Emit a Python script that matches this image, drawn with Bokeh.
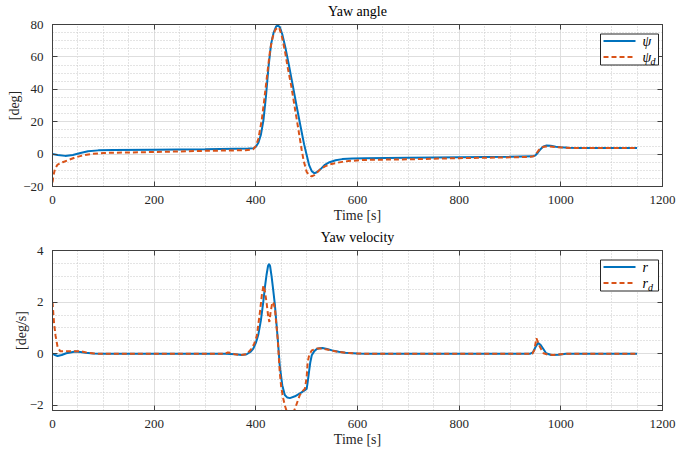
from bokeh.plotting import figure
from bokeh.models import (SingleIntervalTicker, LinearAxis, Range1d, BoxAnnotation,
                          Label, Arrow)
from bokeh.layouts import column
from bokeh.embed import file_html
from bokeh.resources import INLINE

# ---------------- data ----------------
t_psi = [0, 10, 25, 40, 55, 70, 90, 120, 200, 300, 360, 385, 395, 400, 405, 410, 415, 420,
         425, 430, 435, 440, 443, 447, 452, 458, 465, 472, 480, 488, 495, 500, 505, 510,
         515, 520, 527, 535, 545, 557, 570, 590, 615, 700, 800, 900, 945, 950, 955, 960,
         965, 972, 980, 990, 1000, 1015, 1035, 1150]
psi = [0, -0.5, -1.1, -0.6, 0.7, 1.8, 2.3, 2.5, 2.7, 3.0, 3.3, 3.4, 3.6, 4.5, 7.0, 12.0,
       21.0, 36.0, 54.0, 68.0, 75.0, 78.8, 79.3, 78.5, 74.0, 66.0, 55.0, 43.5, 30.0, 17.0,
       6.0, -0.5, -7.0, -10.5, -11.8, -11.2, -9.4, -6.8, -5.0, -3.8, -3.1, -2.7, -2.5,
       -2.2, -1.9, -1.6, -1.4, -0.8, 1.0, 3.0, 4.5, 5.3, 5.1, 4.6, 4.2, 3.9, 3.8, 3.7]

t_psid = [0, 2, 5, 10, 20, 30, 45, 60, 80, 100, 150, 200, 300, 380, 395, 400, 405, 411.6,
          416, 421, 428, 433, 438, 443, 446, 451, 457, 463, 470, 477, 484, 490, 494, 500,
          505, 510, 515, 520, 528, 536, 546, 556, 570, 582, 612, 700, 800, 900, 940, 946,
          951, 956, 961, 966, 975, 990, 1005, 1020, 1150]
psi_d = [-17.5, -13.0, -9.0, -6.5, -5.0, -3.8, -2.0, -0.8, 0.2, 0.7, 1.0, 1.3, 2.0, 2.4,
         3.0, 5.0, 9.5, 21.0, 32.0, 45.6, 64.0, 72.0, 76.6, 78.2, 78.0, 73.0, 64.0, 53.0,
         41.5, 28.0, 14.7, 3.0, -4.0, -11.0, -13.0, -13.8, -13.0, -11.5, -9.0, -7.6, -6.3,
         -5.6, -4.8, -4.3, -3.6, -3.2, -2.5, -2.0, -1.7, -1.4, 0.0, 2.2, 3.8, 4.5, 4.7,
         4.4, 4.0, 3.8, 3.7]

t_r = [0, 5, 10, 18, 27, 35, 45, 55, 65, 80, 100, 340, 360, 372, 382, 390, 395, 400, 405,
       410, 414.6, 418, 421, 424, 426, 428, 431, 434, 437.6, 440, 443, 447, 452, 457, 462,
       467, 477, 490, 500, 502, 504.6, 507, 510, 515, 520, 525, 531, 540, 550, 563, 576,
       600, 615, 940, 945, 950, 955, 960, 965, 971, 981, 995, 1010, 1150]
r = [0, -0.05, -0.09, -0.05, 0.02, 0.05, 0.09, 0.07, 0.04, 0.01, 0, 0, -0.02, -0.05,
     -0.02, 0.08, 0.2, 0.42, 0.75, 1.3, 2.0, 2.6, 3.05, 3.4, 3.48, 3.4, 3.0, 2.5, 1.87,
     1.3, 0.6, -0.45, -1.22, -1.6, -1.7, -1.72, -1.65, -1.5, -1.36, -1.1, -0.7, -0.35,
     -0.06, 0.1, 0.18, 0.21, 0.22, 0.18, 0.13, 0.08, 0.04, 0.01, 0, 0, 0.05, 0.25, 0.42,
     0.35, 0.2, 0.02, -0.05, -0.04, 0, 0]

t_rd = [0, 3, 6, 10, 15, 25, 50, 60, 70, 90, 340, 345, 352, 358, 370, 382, 392, 397, 402,
        408, 412, 415, 418, 421, 424, 426.6, 429, 432.5, 435, 437.6, 440, 443, 447, 450,
        454, 457, 460.6, 467, 473, 477, 482, 486.6, 492, 496.6, 500, 502, 505, 510, 520,
        530, 540, 550, 563, 580, 600, 620, 944, 948, 952, 955, 958, 962, 966, 975, 985,
        1000, 1015, 1150]
r_d = [2.0, 1.2, 0.7, 0.26, 0.1, 0.1, 0.1, 0.08, 0.03, 0, 0, 0.05, 0.03, -0.02, -0.05,
       -0.02, 0.2, 0.4, 0.7, 1.6, 2.3, 2.65, 2.4, 2.0, 1.5, 1.23, 1.6, 2.0, 1.95, 1.74,
       1.2, 0.58, -0.7, -1.3, -1.74, -2.0, -2.22, -2.42, -2.3, -2.13, -1.85, -1.6, -1.45,
       -1.35, -0.9, -0.32, -0.05, 0.13, 0.2, 0.2, 0.16, 0.12, 0.07, 0.03, 0.01, 0, 0, 0.15,
       0.6, 0.45, 0.3, 0.15, 0.02, -0.04, -0.05, -0.02, 0, 0]

titles = ["Yaw angle", "Yaw velocity"]
ylabels = ["[deg]", "[deg/s]"]
xlabel = "Time [s]"
legend_main = [("ψ", "ψ"), ("r", "r")]
legend_sub = [("", "d"), ("", "d")]

# ---------------- styling ----------------
FONT = "Liberation Serif"
BLUE = "#0072BD"
ORANGE = "#D95319"
AX = "#404040"
TXT = "#262626"


def make_fig(title, ylabel, yr, yint, fh, top, bottom):
    p = figure(frame_width=610, frame_height=fh,
               x_range=Range1d(0, 1200), y_range=Range1d(*yr),
               output_backend="svg", toolbar_location=None,
               min_border_left=52, min_border_right=14,
               min_border_top=top, min_border_bottom=bottom,
               background_fill_color="white", border_fill_color="white")
    p.title.text = title
    p.title.text_font = FONT
    p.title.text_font_size = "14px"
    p.title.text_font_style = "normal"
    p.title.text_color = "black"
    p.title.align = "center"
    p.title.standoff = 3

    xt = SingleIntervalTicker(interval=200, num_minor_ticks=4)
    yt = SingleIntervalTicker(interval=yint, num_minor_ticks=4)
    p.xaxis.ticker = xt
    p.yaxis.ticker = yt
    p.xaxis.axis_label = xlabel
    p.yaxis.axis_label = ylabel
    for ax in (p.xaxis, p.yaxis):
        ax.axis_label_text_font = FONT
        ax.axis_label_text_font_size = "14px"
        ax.axis_label_text_font_style = "normal"
        ax.axis_label_text_color = TXT
        ax.major_label_text_font = FONT
        ax.major_label_text_font_size = "13px"
        ax.major_label_text_color = TXT
        ax.axis_line_color = AX
        ax.major_tick_line_color = AX
        ax.major_tick_in = 5
        ax.major_tick_out = 0
        ax.minor_tick_line_color = None
        ax.major_label_standoff = 5
    p.xaxis.axis_label_standoff = 1
    p.yaxis.axis_label_standoff = -2

    # box ticks on top and right (labels not drawn)
    for side, tk in (("above", xt), ("right", yt)):
        a = LinearAxis(ticker=tk, major_tick_in=5, major_tick_out=0,
                       minor_tick_line_color=None, axis_line_color=AX,
                       major_tick_line_color=AX, major_label_text_font_size="1px",
                       major_label_text_alpha=0, major_label_text_color=None,
                       major_label_standoff=0)
        p.add_layout(a, side)

    p.xgrid.grid_line_color = "#dedede"
    p.ygrid.grid_line_color = "#dedede"
    p.xgrid.minor_grid_line_color = "#c9c9c9"
    p.ygrid.minor_grid_line_color = "#c9c9c9"
    p.xgrid.minor_grid_line_dash = "1 2"
    p.ygrid.minor_grid_line_dash = "1 2"
    p.outline_line_color = AX
    p.outline_line_alpha = 1
    return p


def add_legend(p, fh, mains, subs, sub_x):
    top = fh - 9.5
    p.add_layout(BoxAnnotation(left=548, right=606, top=top, bottom=top - 31,
                               left_units="screen", right_units="screen",
                               top_units="screen", bottom_units="screen",
                               fill_color="white", fill_alpha=1,
                               line_color=TXT, line_width=1, line_alpha=1))
    ys = [top - 7, top - 23]
    styles = [(BLUE, "solid"), (ORANGE, "5 3")]
    for y, (c, d), m, s in zip(ys, styles, mains, subs):
        p.add_layout(Arrow(x_start=551, y_start=y, x_end=583, y_end=y,
                           start_units="screen", end_units="screen",
                           start=None, end=None, line_color=c, line_width=2,
                           line_dash=d))
        p.add_layout(Label(x=590, y=y, x_units="screen", y_units="screen", text=m,
                           text_font=FONT, text_font_size="14px",
                           text_font_style="italic", text_color="black",
                           text_baseline="middle"))
        if s:
            p.add_layout(Label(x=sub_x, y=y - 4, x_units="screen", y_units="screen",
                               text=s, text_font=FONT, text_font_size="10px",
                               text_font_style="italic", text_color="black",
                               text_baseline="middle"))


p1 = make_fig(titles[0], ylabels[0], (-20, 80), 20, 162, 24, 40)
p1.line(t_psi, psi, line_color=BLUE, line_width=2)
p1.line(t_psid, psi_d, line_color=ORANGE, line_width=2, line_dash="5 3")
add_legend(p1, 162, legend_main[0], legend_sub[0], 598)

p2 = make_fig(titles[1], ylabels[1], (-2.2, 4), 2, 160, 22, 44)
p2.line(t_r, r, line_color=BLUE, line_width=2)
p2.line(t_rd, r_d, line_color=ORANGE, line_width=2, line_dash="5 3")
add_legend(p2, 160, legend_main[1], legend_sub[1], 595.5)

layout = column(p1, p2, spacing=0)
open("out.html", "w").write(file_html(layout, INLINE))
